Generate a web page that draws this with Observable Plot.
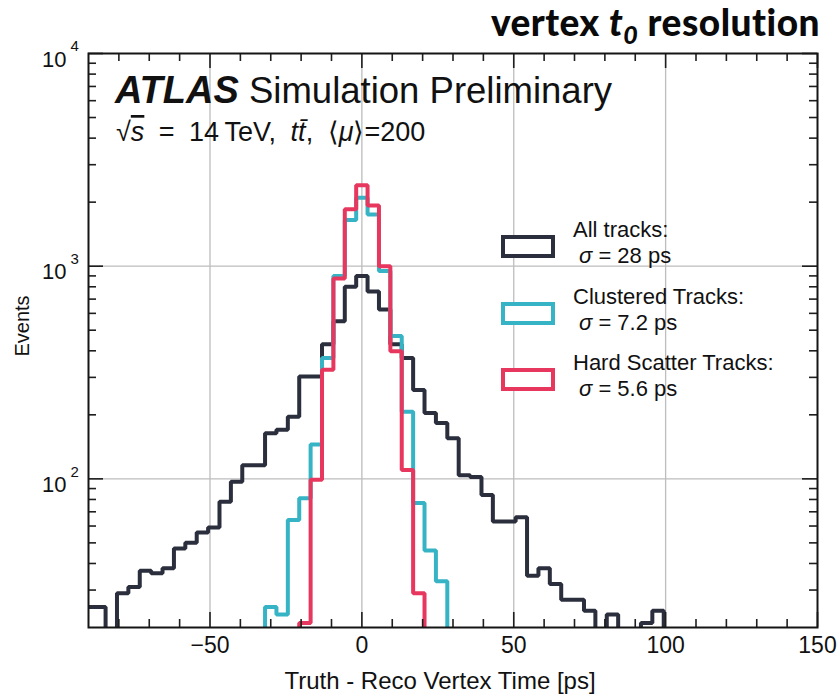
<!DOCTYPE html>
<html>
<head>
<meta charset="utf-8">
<script src="https://cdn.jsdelivr.net/npm/d3@7"></script>
<script src="https://cdn.jsdelivr.net/npm/@observablehq/plot@0.6"></script>
<style>
  html, body { margin: 0; padding: 0; background: #fff; }
  svg { display: block; }
</style>
</head>
<body>
<div id="chart"></div>
<script>
// ---- data (bins of 3.75 ps, centred on -90, -86.25, ..., 150) ----
const binWidth = 3.75;
const firstBinCenter = -90;

const allTracks = [
  25, 25, 0, 29, 31, 37, 36, 38, 47, 50, 56, 59, 78, 97, 116, 116, 164, 170, 196, 303, 303, 430, 551, 800,
  900,
  760, 625, 430, 370, 262, 204, 183, 155, 104, 102, 84, 63, 63, 66, 35, 38, 32, 27, 27, 24, 0, 23, 0, 0, 21, 24,
  0, 0, 0, 0, 0, 0, 0, 0, 0, 0, 0, 0, 0, 0
];
const clusteredTracks = [
  0, 0, 0, 0, 0, 0, 0, 0, 0, 0, 0, 0, 0, 0, 0, 0,
  25, 23, 64, 81, 145, 370, 900, 1650,
  2100,
  1750, 950, 470, 207, 77, 46, 33,
  0, 0, 0, 0, 0, 0, 0, 0, 0, 0, 0, 0, 0, 0, 0, 0, 0, 0, 0, 0, 0, 0, 0, 0, 0, 0, 0, 0, 0, 0, 0, 0, 0
];
const hardScatterTracks = [
  0, 0, 0, 0, 0, 0, 0, 0, 0, 0, 0, 0, 0, 0, 0, 0, 0, 0, 0,
  21, 99, 326, 875, 1850,
  2400,
  1930, 1000, 398, 110, 29,
  0, 0, 0, 0, 0, 0, 0, 0, 0, 0, 0, 0, 0, 0, 0, 0, 0, 0, 0, 0, 0, 0, 0, 0, 0, 0, 0, 0, 0, 0, 0, 0, 0, 0, 0
];

const seriesNames = ["All tracks:", "Clustered Tracks:", "Hard Scatter Tracks:"];
const seriesSigma = ["28 ps", "7.2 ps", "5.6 ps"];
const seriesColors = ["#2b2e3c", "#36b4c5", "#e8375e"];

const xMajorTicks = [-50, 0, 50, 100, 150];
const xMinorTicks = [-80, -70, -60, -40, -30, -20, -10, 10, 20, 30, 40, 60, 70, 80, 90, 110, 120, 130, 140];
const xGridTicks = [-50, 0, 50, 100];
const yMajorTicks = [100, 1000, 10000];
const yMinorTicks = [30, 40, 50, 60, 70, 80, 90, 200, 300, 400, 500, 600, 700, 800, 900,
                     2000, 3000, 4000, 5000, 6000, 7000, 8000, 9000];
const yGridTicks = [100, 1000];
const yExponents = ["2", "3", "4"];

// ---- layout ----
const W = 838, H = 694, mL = 88, mR = 21, mT = 53, mB = 67;
const frameW = W - mL - mR, frameH = H - mT - mB;
const font = "'Liberation Sans', Arial, Helvetica, sans-serif";
const yFloor = 1; // empty bins drawn below the frame (clipped)

function stepRows(counts, name) {
  const rows = counts.map((c, i) => ({series: name, x: firstBinCenter + (i - 0.5) * binWidth, count: c}));
  rows.push({series: name, x: firstBinCenter + (counts.length - 0.5) * binWidth, count: counts[counts.length - 1]});
  return rows;
}
const histos = [allTracks, clusteredTracks, hardScatterTracks].map((c, i) => stepRows(c, seriesNames[i]));

const histMarks = histos.map((rows, i) =>
  Plot.line(rows, {
    x: "x", y: d => Math.max(d.count, yFloor), curve: "step-after",
    stroke: seriesColors[i], strokeWidth: 4, strokeLinejoin: "miter", clip: true
  })
);

const tickStyle = {stroke: "#1e1e1e", strokeWidth: 1.6, strokeOpacity: 1};

const plot = Plot.plot({
  width: W, height: H,
  marginLeft: mL, marginRight: mR, marginTop: mT, marginBottom: mB,
  style: {fontFamily: font, background: "white", color: "#111", overflow: "visible"},
  x: {domain: [-90, 150]},
  y: {type: "log", domain: [20, 10000], axis: null},
  marks: [
    Plot.gridX(xGridTicks, {stroke: "#bdbdbd", strokeOpacity: 1, strokeWidth: 1.3}),
    Plot.gridY(yGridTicks, {stroke: "#bdbdbd", strokeOpacity: 1, strokeWidth: 1.3}),
    ...histMarks,
    // inward ticks, bottom & top
    Plot.tickX(xMinorTicks, {x: d => d, insetTop: frameH - 8, ...tickStyle}),
    Plot.tickX(xMinorTicks, {x: d => d, insetBottom: frameH - 8, ...tickStyle}),
    Plot.tickX(xMajorTicks, {x: d => d, insetTop: frameH - 15, ...tickStyle}),
    Plot.tickX(xMajorTicks, {x: d => d, insetBottom: frameH - 15, ...tickStyle}),
    // inward ticks, left & right
    Plot.tickY(yMinorTicks, {y: d => d, insetRight: frameW - 8, ...tickStyle}),
    Plot.tickY(yMinorTicks, {y: d => d, insetLeft: frameW - 8, ...tickStyle}),
    Plot.tickY(yMajorTicks, {y: d => d, insetRight: frameW - 15, ...tickStyle}),
    Plot.tickY(yMajorTicks, {y: d => d, insetLeft: frameW - 15, ...tickStyle}),
    Plot.frame({stroke: "#151515", strokeWidth: 2}),
    Plot.axisX(xMajorTicks, {
      anchor: "bottom", tickSize: 0, tickPadding: 9, fontSize: 23, label: null,
      tickFormat: d => (d < 0 ? "\u2212" + Math.abs(d) : String(d)), fill: "#111"
    }),
    Plot.text(yMajorTicks, {y: d => d, frameAnchor: "left", text: () => "10", dx: -22, dy: 6,
      textAnchor: "end", lineAnchor: "middle", fontSize: 22, fill: "#111"}),
    Plot.text(yMajorTicks, {y: d => d, frameAnchor: "left", text: (d, i) => yExponents[i], dx: -18, dy: -7,
      textAnchor: "start", lineAnchor: "middle", fontSize: 15, fill: "#111"})
  ]
});

document.getElementById("chart").appendChild(plot);

// ---- annotations (rich text) ----
const svg = d3.select(plot);
const ann = svg.append("g").attr("font-family", font).attr("fill", "#111").attr("text-anchor", "start");

// Title
const title = ann.append("text")
  .attr("x", 820).attr("y", 36).attr("text-anchor", "end")
  .attr("font-family", "Lato, 'Open Sans', sans-serif").attr("font-weight", 900)
  .attr("font-size", 37).attr("letter-spacing", 0.5).attr("fill", "#0a0a0a");
title.append("tspan").text("vertex ");
title.append("tspan").attr("font-style", "italic").text("t");
title.append("tspan").attr("font-style", "italic").attr("font-size", 25).attr("dy", 8).text("0");
title.append("tspan").attr("dy", -8).text(" resolution");

// ATLAS label
const atlas = ann.append("text").attr("x", 115).attr("y", 103).attr("font-size", 36.5);
atlas.append("tspan").attr("font-weight", "bold").attr("font-style", "italic").attr("font-size", 38).text("ATLAS");
atlas.append("tspan").text(" Simulation Preliminary");

const energy = ann.append("text").attr("x", 116).attr("y", 141).attr("font-size", 27)
  .attr("word-spacing", 7);
energy.append("tspan").text("\u221A");
energy.append("tspan").attr("font-style", "italic").style("text-decoration", "overline").text("s");
energy.append("tspan").text(" = 14\u2009TeV, ");
energy.append("tspan").attr("font-style", "italic").text("t");
energy.append("tspan").attr("font-style", "italic").text("t\u0304");
energy.append("tspan").text(", \u27E8");
energy.append("tspan").attr("font-style", "italic").text("\u03BC");
energy.append("tspan").text("\u27E9=200");

// Axis titles
ann.append("text").attr("x", 440).attr("y", 689).attr("text-anchor", "middle")
  .attr("font-size", 24).text("Truth - Reco Vertex Time [ps]");
ann.append("text").attr("transform", "translate(29,326) rotate(-90)").attr("text-anchor", "middle")
  .attr("font-size", 20).text("Events");

// Legend
const legendTop = [237, 304, 370];
seriesNames.forEach((name, i) => {
  const y0 = legendTop[i];
  ann.append("rect").attr("x", 503).attr("y", y0).attr("width", 50).attr("height", 19)
    .attr("fill", "white").attr("stroke", seriesColors[i]).attr("stroke-width", 4);
  ann.append("text").attr("x", 573).attr("y", y0 + 0).attr("font-size", 22).text(name);
  const s = ann.append("text").attr("x", 579).attr("y", y0 + 26).attr("font-size", 22);
  s.append("tspan").attr("font-style", "italic").text("\u03C3");
  s.append("tspan").text(" = " + seriesSigma[i]);
});
</script>
</body>
</html>
